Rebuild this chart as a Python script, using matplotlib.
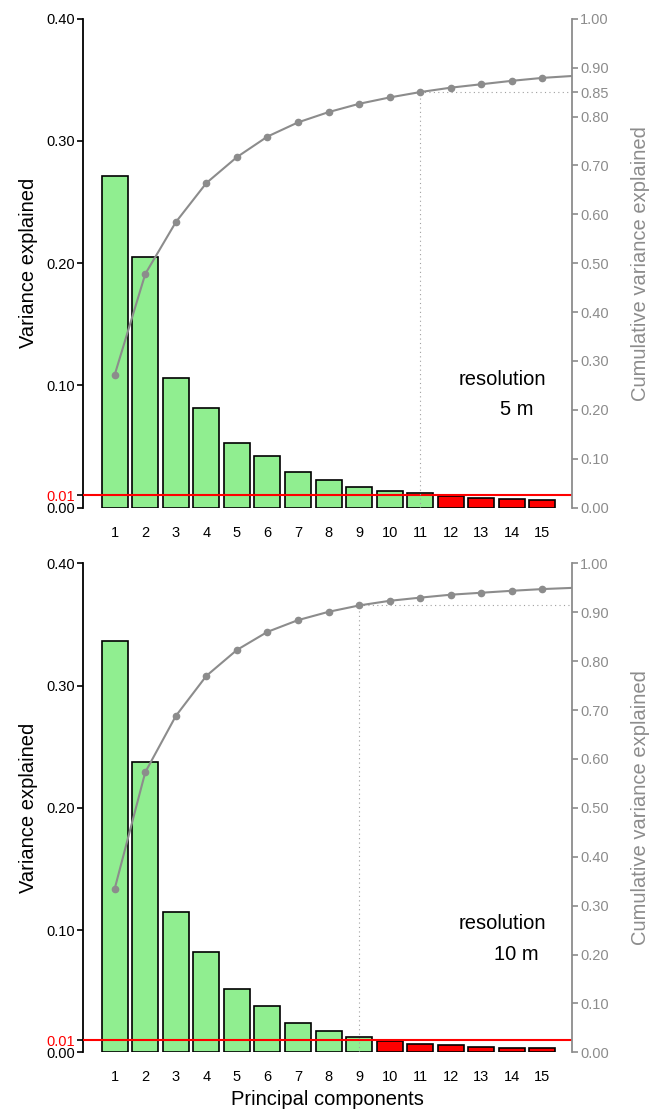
import matplotlib.pyplot as plt
import numpy as np

plt.rcParams['font.family'] = ['Liberation Sans', 'DejaVu Sans']

# variance explained per principal component
components = list(range(1, 16))
var_5m = [0.2713, 0.2053, 0.1060, 0.0816, 0.0529, 0.0425, 0.0292, 0.0225,
          0.0173, 0.0139, 0.0118, 0.0096, 0.0082, 0.0073, 0.0064]
var_10m = [0.3364, 0.2372, 0.1148, 0.0823, 0.0518, 0.0376, 0.0242, 0.0174,
           0.0123, 0.0095, 0.0070, 0.0057, 0.0046, 0.0036, 0.0033]

# cumulative variance (last value is the 16th component, cut off by the axis)
cum_5m = [0.272, 0.478, 0.584, 0.664, 0.717, 0.759, 0.788, 0.809,
          0.826, 0.839, 0.850, 0.859, 0.866, 0.873, 0.879, 0.883]
cum_10m = [0.335, 0.573, 0.688, 0.770, 0.823, 0.860, 0.884, 0.901,
           0.914, 0.9235, 0.930, 0.936, 0.940, 0.944, 0.9475, 0.950]

resolutions = ['5 m', '10 m']
threshold = 0.01

left_ticks = [0.0, 0.01, 0.1, 0.2, 0.3, 0.4]
right_ticks_5m = [0.0, 0.1, 0.2, 0.3, 0.4, 0.5, 0.6, 0.7, 0.8, 0.85, 0.9, 1.0]
right_ticks_10m = [0.0, 0.1, 0.2, 0.3, 0.4, 0.5, 0.6, 0.7, 0.8, 0.9, 1.0]

grey = '#8c8c8c'

fig = plt.figure(figsize=(6.56, 11.15), dpi=100)
panels = [
    (var_5m, cum_5m, right_ticks_5m, resolutions[0], 0.5447, False),
    (var_10m, cum_10m, right_ticks_10m, resolutions[1], 0.0562, True),
]

for var, cum, rticks, res, bottom, show_xlabel in panels:
    ax = fig.add_axes([0.1265, bottom, 0.7454, 0.4385])
    ax2 = ax.twinx()

    colors = ['#90ee90' if v >= threshold else '#ff0000' for v in var]
    ax.bar(components, var, width=0.85, color=colors, edgecolor='black',
           linewidth=1.2, zorder=2)
    ax.axhline(threshold, color='#ff0000', linewidth=1.5, zorder=3)

    ax.set_xlim(-0.04, 15.97)
    ax.set_ylim(0, 0.4)
    ax.set_yticks(left_ticks)
    ax.set_yticklabels(['%.2f' % t for t in left_ticks], fontsize=10.5)
    ax.get_yticklabels()[1].set_color('#ff0000')
    ax.set_xticks(components)
    ax.set_xticklabels([str(c) for c in components], fontsize=10.5)
    ax.tick_params(axis='x', length=0, pad=13)
    ax.tick_params(axis='y', length=4, width=1.2, pad=2)
    ax.set_ylabel('Variance explained', fontsize=14.5, labelpad=6)
    if show_xlabel:
        ax.set_xlabel('Principal components', fontsize=14.5, labelpad=4)
    for side in ['top', 'bottom', 'right']:
        ax.spines[side].set_visible(False)
    ax.spines['left'].set_linewidth(1.3)

    # cumulative curve and cutoff guide lines
    n_green = sum(1 for v in var if v >= threshold)
    cut = cum[n_green - 1]
    x_all = list(range(1, len(cum) + 1))
    ax2.plot(x_all, cum, color=grey, linewidth=1.5, zorder=4)
    ax2.plot(components, cum[:len(components)], 'o', color=grey,
             markersize=4.5, zorder=4)
    ax2.plot([n_green, n_green], [0, cut], color='#a0a0a0',
             linestyle=(0, (1, 3)), linewidth=0.8)
    ax2.plot([n_green, 15.97], [cut, cut], color='#a0a0a0',
             linestyle=(0, (1, 3)), linewidth=0.8)
    ax2.set_xlim(-0.04, 15.97)
    ax2.set_ylim(0, 1.0)
    ax2.set_yticks(rticks)
    ax2.set_yticklabels(['%.2f' % t for t in rticks], fontsize=10.5, color=grey)
    ax2.tick_params(axis='y', length=4, width=1.2, color=grey, pad=2)
    ax2.set_ylabel('Cumulative variance explained', fontsize=14.5, color=grey,
                   labelpad=16)
    for side in ['top', 'bottom', 'left']:
        ax2.spines[side].set_visible(False)
    ax2.spines['right'].set_color(grey)
    ax2.spines['right'].set_linewidth(1.3)

    ax.text(13.7, 0.105, 'resolution', fontsize=14.5, ha='center', va='center')
    ax.text(14.15, 0.080, res, fontsize=14.5, ha='center', va='center')

fig.savefig('out.png', dpi=100)
